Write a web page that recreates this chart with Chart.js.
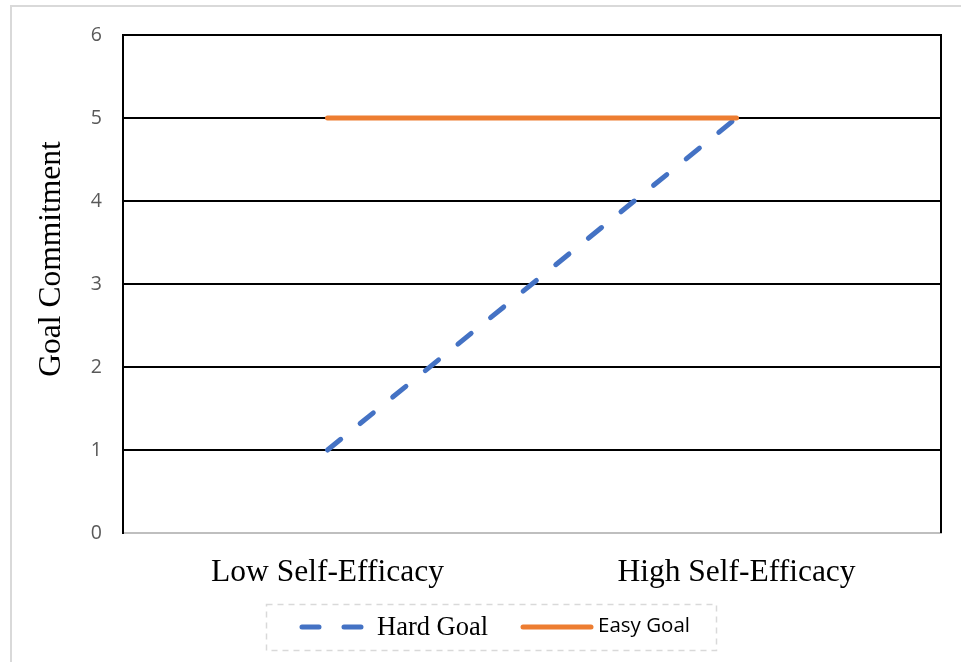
<!DOCTYPE html>
<html>
<head>
<meta charset="utf-8">
<script src="https://cdn.jsdelivr.net/npm/chart.js@4.4.1/dist/chart.umd.min.js"></script>
<style>
  body { margin: 0; background: #fff; }
  #wrap { width: 961px; height: 662px; position: relative; }
</style>
</head>
<body>
<div id="wrap"><canvas id="chart"></canvas></div>
<script>
const categories = ['Low Self-Efficacy', 'High Self-Efficacy']
const hardGoal = [1, 5]
const easyGoal = [5, 5]
const yTicks = [0, 1, 2, 3, 4, 5, 6]

const blue = '#4472C4'
const orange = '#ED7D31'

// frame, right border, y title and the legend box are drawn by hand
const extras = {
    id: 'extras',
    afterDraw(chart) {
        const c = chart.ctx
        const a = chart.chartArea
        c.save()
        // outer light frame
        c.strokeStyle = '#d9d9d9'
        c.lineWidth = 2
        c.strokeRect(11, 6, 1000, 1000)
        // right border of plot
        c.strokeStyle = '#000'
        c.beginPath()
        c.moveTo(a.right, a.top - 1)
        c.lineTo(a.right, a.bottom)
        c.stroke()
        // y title
        c.fillStyle = '#000'
        c.font = '31.5px "Liberation Serif"'
        c.textAlign = 'center'
        c.textBaseline = 'middle'
        c.translate(52, 259)
        c.rotate(-Math.PI / 2)
        c.fillText('Goal Commitment', 0, 0)
        c.restore()

        // legend
        c.save()
        c.strokeStyle = '#d9d9d9'
        c.lineWidth = 1.5
        c.setLineDash([6, 5])
        c.strokeRect(266.5, 604.5, 450, 46)
        c.lineWidth = 5
        c.lineCap = 'round'
        c.strokeStyle = blue
        c.setLineDash([17, 25])
        c.beginPath()
        c.moveTo(302, 627)
        c.lineTo(364, 627)
        c.stroke()
        c.strokeStyle = orange
        c.setLineDash([])
        c.beginPath()
        c.moveTo(523, 627)
        c.lineTo(591, 627)
        c.stroke()
        c.fillStyle = '#000'
        c.textBaseline = 'middle'
        c.font = '26.5px "Liberation Serif"'
        c.fillText(chart.data.datasets[0].label, 377, 628)
        c.font = '20.5px "Open Sans"'
        c.fillText(chart.data.datasets[1].label, 598, 626)
        c.restore()
    }
}

new Chart(document.getElementById('chart'), {
    type: 'line',
    data: {
        labels: categories,
        datasets: [{
            label: 'Hard Goal',
            data: hardGoal,
            borderColor: blue,
            borderWidth: 5,
            borderDash: [17, 25],
            borderCapStyle: 'round',
            pointRadius: 0,
            tension: 0,
            order: 1
        }, {
            label: 'Easy Goal',
            data: easyGoal,
            borderColor: orange,
            borderWidth: 5,
            borderCapStyle: 'round',
            pointRadius: 0,
            tension: 0,
            order: 0
        }]
    },
    options: {
        responsive: true,
        maintainAspectRatio: false,
        animation: false,
        layout: { padding: { left: 0, top: 35, right: 20, bottom: 0 } },
        plugins: {
            legend: { display: false },
            tooltip: { enabled: false }
        },
        scales: {
            x: {
                offset: true,
                grid: { display: false },
                border: { color: '#bfbfbf', width: 2 },
                ticks: {
                    color: '#000',
                    padding: 13,
                    font: { family: 'Liberation Serif', size: 31.5 }
                },
                afterFit(s) { s.height = 129 }
            },
            y: {
                min: 0,
                max: 6,
                afterBuildTicks(s) { s.ticks = yTicks.map(v => ({ value: v })) },
                grid: {
                    drawTicks: false,
                    color: ctx => ctx.tick && ctx.tick.value === 0 ? 'rgba(0,0,0,0)' : '#000',
                    lineWidth: 2
                },
                border: { color: '#000', width: 2 },
                ticks: {
                    color: '#595959',
                    padding: 21,
                    font: { family: 'Open Sans', size: 19.5 }
                },
                afterFit(s) { s.width = 123 }
            }
        }
    },
    plugins: [extras]
})
</script>
</body>
</html>
